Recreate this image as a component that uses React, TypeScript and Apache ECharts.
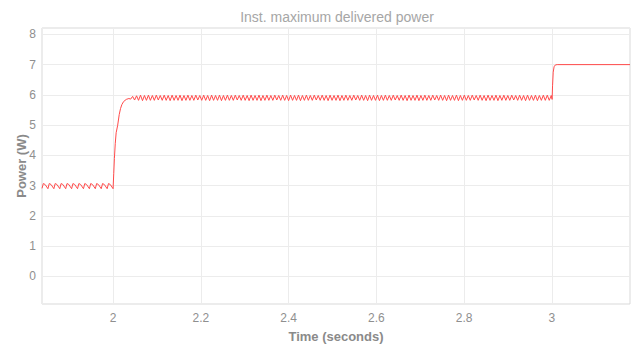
import React, { useEffect, useRef } from "react";
import * as echarts from "echarts";

const TITLE = "Inst. maximum delivered power";
const X_NAME = "Time (seconds)";
const Y_NAME = "Power (W)";
const X_MIN = 1.838;
const X_MAX = 3.178;
const Y_MIN = -0.91;
const Y_MAX = 8.21;

// before the step at t = 2 s (small arches around 3 W)
const preTimes = [
  1.838, 1.841, 1.845, 1.8515, 1.8545, 1.8585, 1.865, 1.868, 1.872, 1.8785,
  1.8815, 1.8855, 1.892, 1.895, 1.899, 1.9055, 1.9085, 1.9125, 1.919, 1.922,
  1.926, 1.9325, 1.9355, 1.9395, 1.946, 1.949, 1.953, 1.9595, 1.9625, 1.9665,
  1.973, 1.976, 1.98, 1.9865, 1.9895, 1.9935,
];
const prePower = [
  2.91, 3.07, 3.04, 2.9, 3.07, 3.04, 2.9, 3.07, 3.04, 2.9,
  3.07, 3.04, 2.9, 3.07, 3.04, 2.9, 3.07, 3.04, 2.9, 3.07,
  3.04, 2.9, 3.07, 3.04, 2.9, 3.07, 3.04, 2.9, 3.07, 3.04,
  2.9, 3.07, 3.04, 2.9, 3.07, 3.04,
];

// rise after t = 2 s
const riseTimes = [2.0, 2.0015, 2.003, 2.005, 2.007, 2.0105, 2.014, 2.017, 2.02, 2.024, 2.03, 2.036, 2.04];
const risePower = [2.9, 3.4, 3.9, 4.4, 4.75, 5.0, 5.35, 5.55, 5.68, 5.78, 5.85, 5.88, 5.86];

// ripple around 5.9 W, sampled every OSC_STEP seconds from OSC_START
const OSC_START = 2.0445;
const OSC_STEP = 0.0045;
const oscPower = [
  5.95, 5.83, 5.97, 5.82, 5.99, 5.81, 5.98, 5.82, 5.99, 5.82,
  5.98, 5.82, 5.99, 5.83, 5.98, 5.82, 5.99, 5.82, 5.98, 5.81,
  5.99, 5.82, 5.98, 5.82, 5.99, 5.81, 5.98, 5.82, 5.99, 5.82,
  5.98, 5.82, 5.99, 5.83, 5.98, 5.82, 5.99, 5.82, 5.98, 5.81,
  5.99, 5.82, 5.98, 5.82, 5.99, 5.81, 5.98, 5.82, 5.99, 5.82,
  5.98, 5.82, 5.99, 5.83, 5.98, 5.82, 5.99, 5.82, 5.98, 5.81,
  5.99, 5.82, 5.98, 5.82, 5.99, 5.81, 5.98, 5.82, 5.99, 5.82,
  5.98, 5.82, 5.99, 5.83, 5.98, 5.82, 5.99, 5.82, 5.98, 5.81,
  5.99, 5.82, 5.98, 5.82, 5.99, 5.81, 5.98, 5.82, 5.99, 5.82,
  5.98, 5.82, 5.99, 5.83, 5.98, 5.82, 5.99, 5.82, 5.98, 5.81,
  5.99, 5.82, 5.98, 5.82, 5.99, 5.81, 5.98, 5.82, 5.99, 5.82,
  5.98, 5.82, 5.99, 5.83, 5.98, 5.82, 5.99, 5.82, 5.98, 5.81,
  5.99, 5.82, 5.98, 5.82, 5.99, 5.81, 5.98, 5.82, 5.99, 5.82,
  5.98, 5.82, 5.99, 5.83, 5.98, 5.82, 5.99, 5.82, 5.98, 5.81,
  5.99, 5.82, 5.98, 5.82, 5.99, 5.81, 5.98, 5.82, 5.99, 5.82,
  5.98, 5.82, 5.99, 5.83, 5.98, 5.82, 5.99, 5.82, 5.98, 5.81,
  5.99, 5.82, 5.98, 5.82, 5.99, 5.81, 5.98, 5.82, 5.99, 5.82,
  5.98, 5.82, 5.99, 5.83, 5.98, 5.82, 5.99, 5.82, 5.98, 5.81,
  5.99, 5.82, 5.98, 5.82, 5.99, 5.81, 5.98, 5.82, 5.99, 5.82,
  5.98, 5.82, 5.99, 5.83, 5.98, 5.82, 5.99, 5.82, 5.98, 5.81,
  5.99, 5.82, 5.98, 5.82, 5.99, 5.81, 5.98, 5.82, 5.99, 5.82,
  5.99, 5.82, 5.98,
];

// step at t = 3 s to 7 W
const stepTimes = [3.0005, 3.0015, 3.003, 3.005, 3.008, 3.012, 3.178];
const stepPower = [5.85, 6.3, 6.75, 6.93, 6.99, 7.0, 7.0];

const FONT = "'Liberation Sans', Arial, Helvetica, sans-serif";

function buildData(): [number, number][] {
  const d: [number, number][] = [];
  preTimes.forEach((t, i) => d.push([t, prePower[i]]));
  riseTimes.forEach((t, i) => d.push([t, risePower[i]]));
  oscPower.forEach((v, i) => d.push([+(OSC_START + i * OSC_STEP).toFixed(4), v]));
  stepTimes.forEach((t, i) => d.push([t, stepPower[i]]));
  return d;
}

export default function App() {
  const ref = useRef<HTMLDivElement>(null);
  useEffect(() => {
    if (!ref.current) return;
    const chart = echarts.init(ref.current, undefined, { renderer: "svg" });
    chart.setOption({
      animation: false,
      backgroundColor: "#ffffff",
      graphic: [
        {
          type: "text",
          x: 337,
          y: 17,
          style: {
            text: TITLE,
            fill: "#a6a6a6",
            font: `14px ${FONT}`,
            textAlign: "center",
            textVerticalAlign: "middle",
          },
        },
      ],
      grid: {
        left: 42,
        right: 4,
        top: 28,
        bottom: 41,
        show: true,
        borderColor: "#d9d9d9",
        borderWidth: 1,
        backgroundColor: "transparent",
        outerBoundsMode: "none",
        containLabel: false,
      },
      xAxis: {
        type: "value",
        min: X_MIN,
        max: X_MAX,
        minInterval: 0.2,
        maxInterval: 0.2,
        name: X_NAME,
        nameLocation: "middle",
        nameGap: 26,
        nameMoveOverlap: false,
        nameTextStyle: { color: "#8a8a8a", fontSize: 13, fontWeight: "bold", fontFamily: FONT },
        axisLine: { show: false },
        axisTick: { show: false },
        axisLabel: {
          color: "#8f8f8f",
          fontSize: 12,
          fontFamily: FONT,
          margin: 8,
          showMinLabel: false,
          showMaxLabel: false,
        },
        splitLine: { show: true, lineStyle: { color: "#ececec", width: 1 } },
      },
      yAxis: {
        type: "value",
        min: Y_MIN,
        max: Y_MAX,
        minInterval: 1,
        maxInterval: 1,
        name: Y_NAME,
        nameLocation: "middle",
        nameGap: 14,
        nameMoveOverlap: false,
        nameTextStyle: { color: "#8a8a8a", fontSize: 13, fontWeight: "bold", fontFamily: FONT },
        axisLine: { show: false },
        axisTick: { show: false },
        axisLabel: {
          color: "#8f8f8f",
          fontSize: 12,
          fontFamily: FONT,
          margin: 6,
          showMinLabel: false,
          showMaxLabel: false,
        },
        splitLine: { show: true, lineStyle: { color: "#ececec", width: 1 } },
      },
      series: [
        {
          type: "line",
          data: buildData(),
          showSymbol: false,
          symbol: "none",
          lineStyle: { color: "#ff4a4a", width: 1 },
          clip: true,
        },
      ],
    });
    return () => chart.dispose();
  }, []);
  return (
    <div
      ref={ref}
      style={{ position: "fixed", left: 0, top: 0, width: 634, height: 345, background: "#fff" }}
    />
  );
}
